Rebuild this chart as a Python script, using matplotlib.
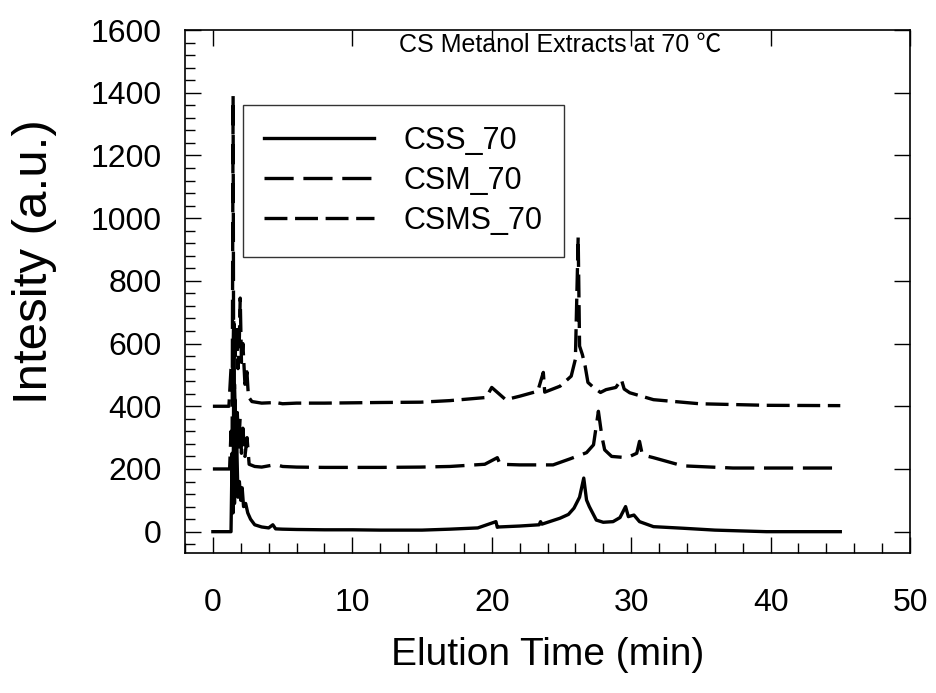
import matplotlib
matplotlib.use("Agg")
import matplotlib.pyplot as plt
from matplotlib.ticker import MultipleLocator

plt.rcParams['font.family'] = ['Liberation Sans', 'Noto Sans CJK SC', 'DejaVu Sans']
plt.rcParams['lines.scale_dashes'] = False

# ---- data (elution time in min, intensity in a.u.; offsets already included) ----
css_x = [0, 1.3, 1.38, 1.45, 1.5, 1.55, 1.6, 1.65, 1.7, 1.8, 1.9, 2.0, 2.1, 2.2, 2.35, 2.5, 2.7,
         3.0, 3.5, 4.0, 4.3, 4.5, 5, 6, 8, 10, 12, 14, 15, 17, 19, 20.3, 20.4, 20.5, 22, 23.4,
         23.5, 23.6, 24.9, 25.5, 25.9, 26.3, 26.6, 26.8, 27.0, 27.5, 28.0, 28.7, 29.2, 29.6,
         29.8, 30.2, 30.6, 31.6, 33.7, 36, 39.7, 42, 45]
css_y = [0, 0, 250, 60, 560, 90, 420, 140, 300, 110, 160, 100, 140, 80, 90, 60, 40,
         22, 15, 12, 22, 9, 8, 7, 6, 6, 5, 5, 5, 8, 12, 32, 14, 15, 18, 22,
         32, 24, 43, 55, 75, 110, 171, 101, 80, 37, 30, 32, 45, 80,
         48, 53, 32, 16, 11, 5, 0, 0, 0]

csm_x = [0, 1.2, 1.3, 1.38, 1.45, 1.5, 1.55, 1.65, 1.75, 1.85, 1.95, 2.05, 2.15, 2.3, 2.45,
         2.6, 3.0, 3.5, 4.0, 4.5, 5.0, 6, 8, 10, 12, 14.9, 17, 19.5, 20.4, 20.6, 22.0, 24.4,
         25.6, 26.8, 27.3, 27.65, 27.9, 28.1, 28.6, 29.7, 30.4, 30.6, 30.8, 31.6, 33.7,
         37.3, 41, 45]
csm_y = [200, 200, 320, 260, 1390, 240, 470, 300, 380, 270, 360, 250, 330, 240, 300,
         215, 208, 206, 210, 214, 208, 206, 205, 205, 205, 206, 208, 215, 236, 215, 213, 213,
         232, 252, 277, 384, 304, 261, 240, 236, 250, 288, 245, 236, 210,
         203, 203, 203]

csms_x = [0, 1.15, 1.3, 1.4, 1.5, 1.6, 1.7, 1.8, 1.9, 1.96, 2.05, 2.15, 2.3, 2.44, 2.55,
          2.8, 3.5, 4.5, 5, 6, 8, 10, 12, 14.9, 17, 19.6, 20.0, 21.0, 22.0, 23.3, 23.7, 23.8,
          24.9, 25.7, 26.0, 26.2, 26.3, 26.5, 26.7, 26.9, 27.3, 27.8, 28.2, 28.9, 29.3,
          29.5, 29.9, 31.6, 34.9, 39.7, 45]
csms_y = [400, 400, 520, 450, 680, 560, 650, 520, 620, 745, 540, 600, 470, 510, 430,
          415, 410, 412, 408, 410, 410, 411, 412, 413, 418, 428, 460, 421, 432, 448, 508, 445,
          464, 496, 550, 940, 592, 565, 528, 476, 460, 444, 453, 460, 485,
          455, 443, 421, 408, 403, 402]

labels = ['CSS_70', 'CSM_70', 'CSMS_70']
title_text = 'CS Metanol Extracts at 70 \u2103'

fig = plt.figure(figsize=(9.36, 6.93), dpi=100)
ax = fig.add_axes([185/936, 1-553/693, 725/936, 523/693])

lw = 2.4
ax.plot(css_x, css_y, color='black', lw=lw, linestyle='-', label=labels[0])
ax.plot(csm_x, csm_y, color='black', lw=lw, dashes=(21, 7), label=labels[1])
ax.plot(csms_x, csms_y, color='black', lw=lw, dashes=(16.5, 5.5), label=labels[2])

ax.set_xlim(-2, 50)
ax.set_ylim(-68, 1600)
ax.xaxis.set_major_locator(MultipleLocator(10))
ax.xaxis.set_minor_locator(MultipleLocator(2))
ax.yaxis.set_major_locator(MultipleLocator(200))
ax.yaxis.set_minor_locator(MultipleLocator(40))

ax.tick_params(which='major', direction='in', length=11.5, width=1, labelsize=23,
               top=True, right=True)
ax.tick_params(which='minor', direction='in', length=7, width=1,
               top=False, right=False)
ax.tick_params(axis='y', which='major', pad=17)
ax.tick_params(axis='x', which='major', pad=25)
for s in ax.spines.values():
    s.set_linewidth(1.2)

fig.text(548/936, 1-655/693, 'Elution Time (min)', fontsize=28, ha='center', va='center')
fig.text(35/936, 1-262/693, 'Intesity (a.u.)', fontsize=35.5, ha='center', va='center',
         rotation=90)

ax.text(0.517, 0.971, title_text, transform=ax.transAxes, ha='center', va='center',
        fontsize=18)

leg = ax.legend(loc='upper left', bbox_to_anchor=(0.08, 0.857), fontsize=22,
                frameon=True, fancybox=False, edgecolor='black', handlelength=3.6,
                handletextpad=0.95, borderpad=0.7, labelspacing=0.32, borderaxespad=0)
leg.get_frame().set_linewidth(1.0)

fig.savefig('out.png', dpi=100)
